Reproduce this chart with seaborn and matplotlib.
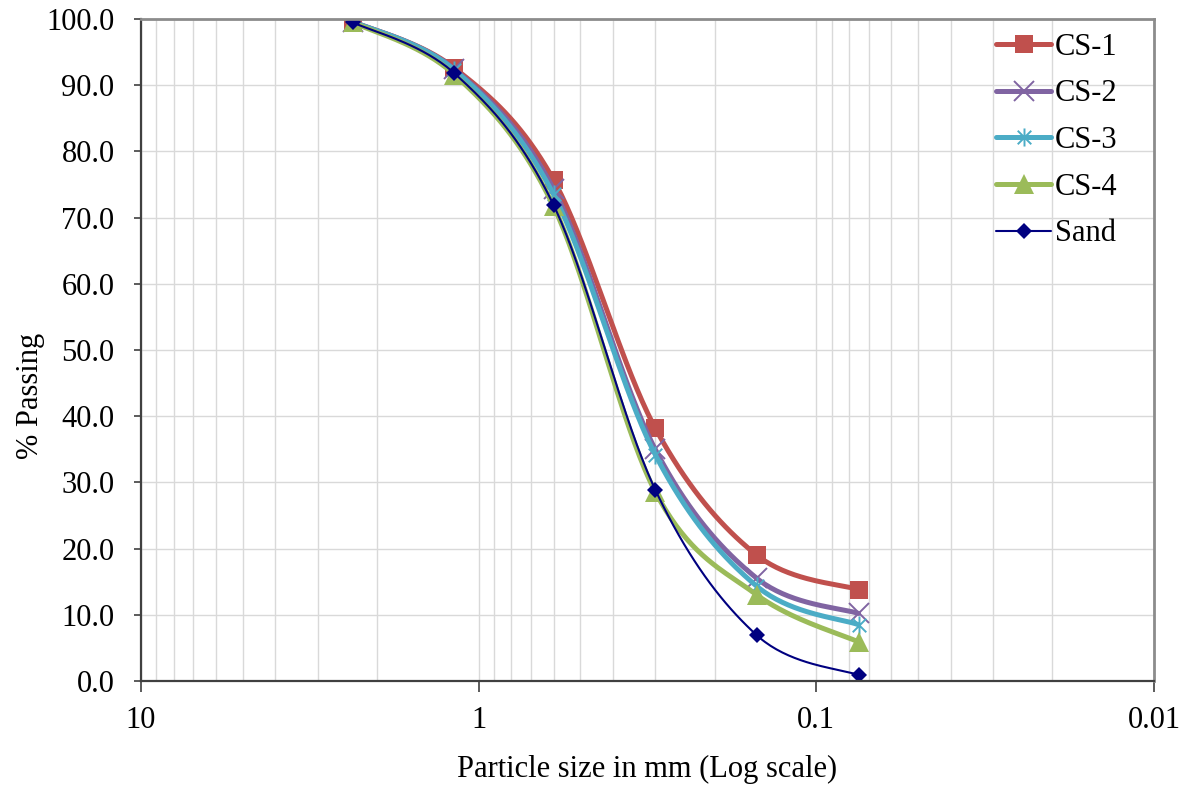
import numpy as np
import pandas as pd
import matplotlib
matplotlib.use("Agg")
import matplotlib.pyplot as plt
from matplotlib.path import Path
from matplotlib.ticker import FixedLocator, LogLocator, NullFormatter, FuncFormatter
import seaborn as sns

# Sieve sizes (mm) and percent passing for each material
sieve_mm = [2.36, 1.18, 0.6, 0.3, 0.15, 0.075]
cs1 = [99.6, 92.6, 75.7, 38.2, 19.0, 13.8]
cs2 = [99.6, 92.4, 74.3, 35.0, 15.5, 10.2]
cs3 = [99.6, 92.3, 73.5, 34.2, 14.3, 8.5]
cs4 = [99.5, 91.6, 71.7, 28.6, 13.0, 5.9]
sand = [99.5, 91.8, 71.9, 28.9, 6.9, 0.9]

series_names = ["CS-1", "CS-2", "CS-3", "CS-4", "Sand"]
series_values = [cs1, cs2, cs3, cs4, sand]
x_tick_values = [10, 1, 0.1, 0.01]
x_tick_labels = ["10", "1", "0.1", "0.01"]

colors = ["#C0504D", "#8064A2", "#4BACC6", "#9BBB59", "#000080"]

# Asterisk marker: vertical bar plus a cross
asterisk = Path(
    [(0, -1), (0, 1), (-0.75, -0.75), (0.75, 0.75), (-0.75, 0.75), (0.75, -0.75)],
    [Path.MOVETO, Path.LINETO, Path.MOVETO, Path.LINETO, Path.MOVETO, Path.LINETO],
)
styles = [
    dict(marker="s", ms=13, lw=3.6, mew=0),
    dict(marker="x", ms=14, lw=3.6, mew=1.4),
    dict(marker=asterisk, ms=13, lw=3.6, mew=1.4),
    dict(marker="^", ms=15, lw=3.6, mew=0),
    dict(marker="D", ms=8, lw=1.5, mew=0),
]


def smooth_curve(xs, ys, n=40):
    """Catmull-Rom style Bezier smoothing in (log10 x, y) space."""
    u = np.log10(np.asarray(xs, float))
    v = np.asarray(ys, float)
    pts = np.column_stack([u, v])
    m = len(pts)
    out = []
    t = np.linspace(0, 1, n)[:, None]
    for i in range(m - 1):
        p0 = pts[max(i - 1, 0)]
        p1 = pts[i]
        p2 = pts[i + 1]
        p3 = pts[min(i + 2, m - 1)]
        c1 = p1 + (p2 - p0) / 6.0
        c2 = p2 - (p3 - p1) / 6.0
        seg = ((1 - t) ** 3) * p1 + 3 * ((1 - t) ** 2) * t * c1 + 3 * (1 - t) * t ** 2 * c2 + t ** 3 * p2
        out.append(seg if i == 0 else seg[1:])
    out = np.vstack(out)
    return 10 ** out[:, 0], out[:, 1]


sns.set_style("white")
plt.rcParams["font.family"] = ["Liberation Serif", "DejaVu Serif"]
plt.rcParams["text.color"] = "black"
plt.rcParams["axes.labelcolor"] = "black"
plt.rcParams["xtick.color"] = "black"
plt.rcParams["ytick.color"] = "black"

fig = plt.figure(figsize=(11.93, 7.86), dpi=100)
ax = fig.add_axes([141 / 1193, 105 / 786, (1154 - 141) / 1193, (681 - 19) / 786])

for name, vals, col, st in zip(series_names, series_values, colors, styles):
    sx, sy = smooth_curve(sieve_mm, vals)
    curve = pd.DataFrame({"size": sx, "passing": sy})
    sns.lineplot(data=curve, x="size", y="passing", ax=ax, color=col, lw=st["lw"],
                 sort=False, estimator=None, legend=False, solid_capstyle="round")
    ax.plot(sieve_mm, vals, linestyle="none", marker=st["marker"], ms=st["ms"],
            color=col, mec=col, mew=st["mew"], mfc=col)
    # proxy artist for legend
    ax.plot([], [], color=col, lw=st["lw"], marker=st["marker"], ms=st["ms"],
            mec=col, mew=st["mew"], mfc=col, label=name, solid_capstyle="round")

ax.set_xscale("log")
ax.set_xlim(10, 0.01)
ax.set_ylim(0, 100)

ax.xaxis.set_major_locator(FixedLocator(x_tick_values))
ax.xaxis.set_major_formatter(FuncFormatter(lambda v, p: dict(zip(x_tick_values, x_tick_labels)).get(v, "")))
ax.xaxis.set_minor_locator(LogLocator(base=10, subs=np.arange(2, 10), numticks=20))
ax.xaxis.set_minor_formatter(NullFormatter())
ax.set_yticks(np.arange(0, 101, 10))
ax.yaxis.set_major_formatter(FuncFormatter(lambda v, p: f"{v:.1f}"))

ax.grid(True, which="both", axis="x", color="#D9D9D9", lw=1.0)
ax.grid(True, which="major", axis="y", color="#D9D9D9", lw=1.0)
ax.set_axisbelow(True)

ax.tick_params(axis="x", which="major", direction="out", length=8, width=1.2,
               color="#404040", labelsize=22, pad=10, bottom=True)
ax.tick_params(axis="x", which="minor", length=0, bottom=False)
ax.tick_params(axis="y", which="major", direction="out", length=5, width=1.2,
               color="#404040", labelsize=22, pad=14, left=True)

for side in ["left", "bottom"]:
    ax.spines[side].set_color("#404040")
    ax.spines[side].set_linewidth(1.6)
for side in ["top", "right"]:
    ax.spines[side].set_color("#8C8C8C")
    ax.spines[side].set_linewidth(2.0)

ax.set_xlabel("Particle size in mm (Log scale)", fontsize=22, labelpad=14)
ax.set_ylabel("% Passing", fontsize=22)
ax.yaxis.set_label_coords(-0.095, 0.43)

leg = ax.legend(loc="upper right", frameon=False, fontsize=22, handlelength=1.8,
                handletextpad=0.12, labelspacing=0.58, borderaxespad=0.0,
                bbox_to_anchor=(0.976, 0.998))

fig.savefig("out.png", dpi=100)
